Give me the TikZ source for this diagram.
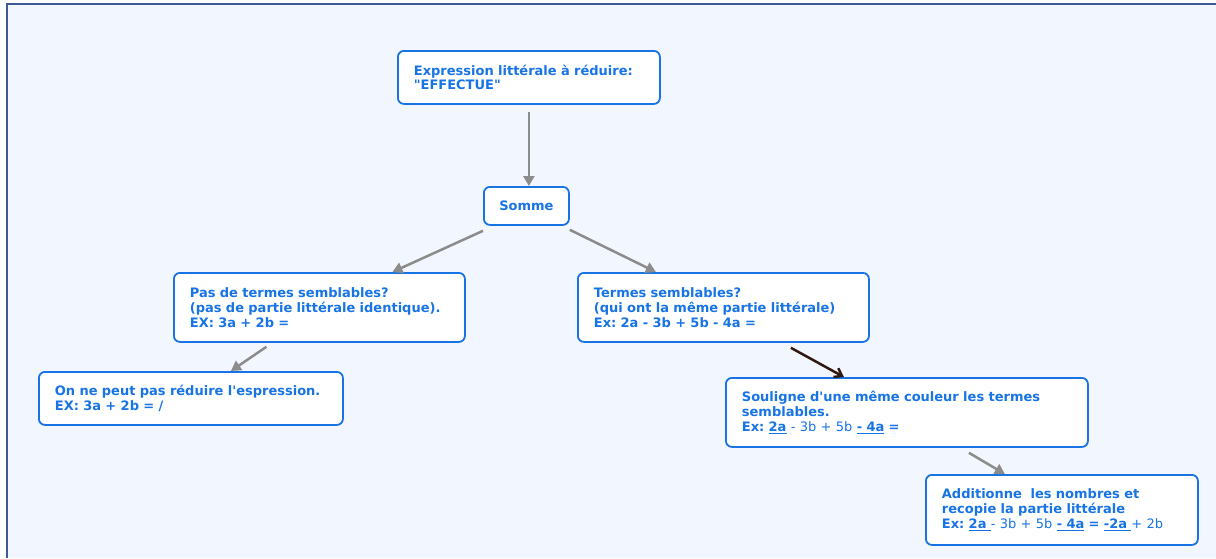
\documentclass[tikz,border=0pt]{standalone}
\usepackage{fontspec}
\setmainfont{DejaVu Sans}[Ligatures=TeXOff]
\usepackage{tikz}
\usetikzlibrary{arrows.meta}
\frenchspacing
\definecolor{mapblue}{RGB}{24,116,228}
\definecolor{mapback}{RGB}{242,246,255}
\definecolor{mapframe}{RGB}{60,90,150}
\definecolor{linkgray}{RGB}{140,140,140}
\definecolor{linkdark}{RGB}{48,26,16}
\newcommand{\ul}[1]{\underline{#1}}
\tikzstyle{idea}=[rectangle, draw=mapblue, fill=white, line width=1.8pt, rounded corners=6pt, anchor=north west, align=left, inner xsep=16pt, inner ysep=0pt, text=mapblue, font=\fontsize{13}{14.8}\selectfont\bfseries\frenchspacing]
\tikzstyle{hub}=[rectangle, draw=mapblue, fill=white, line width=1.8pt, rounded corners=6pt, anchor=north west, align=center, inner sep=0pt, text=mapblue, font=\fontsize{13}{14.8}\selectfont\bfseries]
\tikzstyle{link}=[draw=linkgray, line width=2.5pt, -{Triangle[length=10pt, width=11pt]}]
\tikzstyle{darklink}=[draw=linkdark, line width=2.5pt, -{Straight Barb[length=7pt, width=10pt]}]

\begin{document}
\begin{tikzpicture}[x=1pt, y=-1pt]
                \useasboundingbox (0,0) rectangle (1216,558);
                \fill[mapback] (7,4) rectangle (1216,558);
                \draw[mapframe, line width=2pt] (7,558) -- (7,4) -- (1216,4);
                \node[idea, text width=230pt, minimum height=53pt] (expr) at (397, 50) {Expression littérale à réduire:\\"EFFECTUE"};
                \node[hub, minimum width=85pt, minimum height=38pt] (somme) at (483, 186) {Somme};
                \node[idea, text width=259pt, minimum height=69pt] (pas) at (173, 272) {Pas de termes semblables?\\(pas de partie littérale identique).\\EX: 3a + 2b =};
                \node[idea, text width=272pt, minimum height=53pt] (reduire) at (38, 371) {On ne peut pas réduire l'espression.\\EX: 3a + 2b = /};
                \node[idea, text width=259pt, minimum height=69pt] (termes) at (577, 272) {Termes semblables?\\(qui ont la même partie littérale)\\Ex: 2a - 3b + 5b - 4a =};
                \node[idea, text width=330pt, minimum height=69pt] (souligne) at (725, 377) {Souligne d'une même couleur les termes\\semblables.\\Ex: \ul{2a} \mdseries- 3b + 5b \bfseries\ul{- 4a} =};
                \node[idea, text width=240pt, minimum height=70pt] (additionne) at (925, 474) {Additionne\ \ les nombres et\\recopie la partie littérale\\Ex: \ul{2a\ }\mdseries- 3b + 5b \bfseries\ul{- 4a} = \ul{-2a\ }\mdseries+ 2b};
                \draw[link] ([yshift=-7pt]expr.south) -- (expr.south |- somme.north);
                \draw[link] ([yshift=-5pt]somme.south west) -- ([xshift=73pt]pas.north);
                \draw[link] ([yshift=-4pt]somme.south east) -- ([xshift=-67.5pt]termes.north);
                \draw[link] ([xshift=-53pt, yshift=-4pt]pas.south) -- ([xshift=40pt]reduire.north);
                \draw[darklink] ([xshift=67.5pt, yshift=-5pt]termes.south) -- ([xshift=-63pt]souligne.north);
                \draw[link] ([xshift=62pt, yshift=-5pt]souligne.south) -- ([xshift=-57pt]additionne.north);
            \end{tikzpicture}
\end{document}
